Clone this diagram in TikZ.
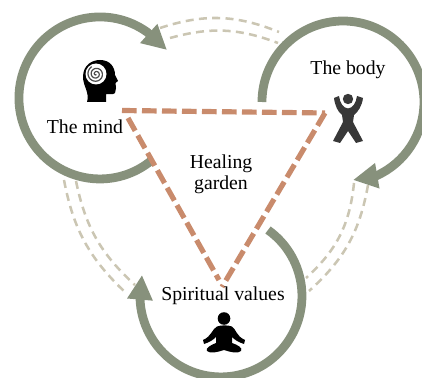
\documentclass[tikz,border=0pt]{standalone}
\usepackage{fontspec}
\setmainfont{Liberation Serif}
\usetikzlibrary{arrows.meta}

\definecolor{ringgreen}{HTML}{87917C}
\definecolor{linktan}{HTML}{CBC6B3}
\definecolor{triclay}{HTML}{C98B6C}

\begin{document}
\begin{tikzpicture}[
  x=0.75pt, y=-0.75pt,
  ring/.style={draw=ringgreen, line width=6.6pt, -{Triangle[length=18.5pt,width=18pt]}},
  link/.style={draw=linktan, line width=1.9pt, dash pattern=on 6pt off 4pt},
  tri/.style={draw=triclay, line width=3.9pt, dash pattern=on 11pt off 4pt},
  label/.style={font=\fontsize{14.8}{15.75}\selectfont, align=center, text=black, inner sep=0pt}
]
\useasboundingbox (0,0) rectangle (422,378);

% links between the rings
\coordinate (bodyua) at (160,28);
\coordinate (bodyub) at (279,32);
\coordinate (bodyla) at (170,38);
\coordinate (bodylb) at (278,43);
\coordinate (spirua) at (64,180);
\coordinate (spirub) at (126,293);
\coordinate (spirla) at (76,181);
\coordinate (spirlb) at (135,285);
\coordinate (valua) at (354,183);
\coordinate (valub) at (306,278);
\coordinate (valla) at (368,185);
\coordinate (vallb) at (309,291);
\draw[link] (bodyua) to[bend left=20] (bodyub);
\draw[link] (bodyla) to[bend left=18] (bodylb);
\draw[link] (spirua) to[bend right=18] (spirub);
\draw[link] (spirla) to[bend right=18] (spirlb);
\draw[link] (valua) to[bend left=21] (valub);
\draw[link] (valla) to[bend left=19] (vallb);

% rings
\coordinate (mindstart) at (152,160);
\coordinate (mindtip) at (167,50);
\coordinate (bodystart) at (262,102);
\coordinate (bodytip) at (353,180);
\coordinate (valstart) at (268,230);
\coordinate (valtip) at (142,275);
\draw[ring] (mindstart) arc[start angle=50, end angle=306, radius=81] -- (mindtip);
\draw[ring] (bodystart) arc[start angle=180, end angle=426, radius=81] -- (bodytip);
\draw[ring] (valstart) arc[start angle=-54.5, end angle=178, radius=81] -- (valtip);

% triangle
\coordinate (trimind) at (122,110.5);
\coordinate (trileft) at (128,118);
\coordinate (tribody) at (325,113);
\coordinate (trival) at (222,287);
\coordinate (trilow) at (219,280);
\draw[tri] (trimind) -- (tribody);
\draw[tri] (tribody) -- (trival);
\draw[tri] (trileft) -- (trilow);

% head
\fill[black] (87,102) .. controls (90,93) and (83,86) .. (83,77)
  .. controls (83,65) and (92,60) .. (100,60)
  .. controls (110,60) and (115,67) .. (115,75)
  -- (118,81) -- (115.5,83) -- (116,88) -- (115,93)
  .. controls (113,95) and (109,94) .. (106,94) -- (106,102) -- cycle;
\fill[white] (96,74) circle[radius=10.5];
\draw[black!70, line width=0.9pt] plot[domain=60:960, samples=90, smooth]
  ({96+8.5*(\x/960)*cos(\x)}, {74+8.5*(\x/960)*sin(\x)});

% standing figure
\fill[black!78] (348,99) circle[radius=5.2];
\fill[black!78] (334,98) -- (339,96) .. controls (340,103) and (343,108) .. (348,108.5)
  .. controls (353,108) and (356,103) .. (357,96) -- (363,98)
  .. controls (362,106) and (358,112) .. (354,115) -- (353,122)
  -- (363,141) -- (356,143) -- (348,131) -- (340,143) -- (333,141)
  -- (343,122) -- (342,115) .. controls (338,112) and (335,106) .. (334,98) -- cycle;

% seated figure
\fill[black] (224,318.5) circle[radius=6.3];
\fill[black] (217,326.5) .. controls (221,325) and (228,325) .. (232,326.5)
  .. controls (236,329) and (236,336) .. (245,340) -- (244,344)
  .. controls (238,342) and (235,340) .. (232,337) -- (232,343)
  .. controls (238,345) and (243,348) .. (241,351) .. controls (238,354) and (230,352) .. (224,350)
  .. controls (218,352) and (210,354) .. (207,351) .. controls (205,348) and (211,345) .. (216,343)
  -- (216,337) .. controls (213,340) and (210,342) .. (204,344) -- (203,340)
  .. controls (212,336) and (212,329) .. (217,326.5) -- cycle;

% labels
\node[label] (mind) at (85,127) {The mind};
\node[label] (body) at (348,70) {The body};
\node[label] (garden) at (221,174) {Healing\\garden};
\node[label] (values) at (223,296) {Spiritual values};
\end{tikzpicture}
\end{document}
